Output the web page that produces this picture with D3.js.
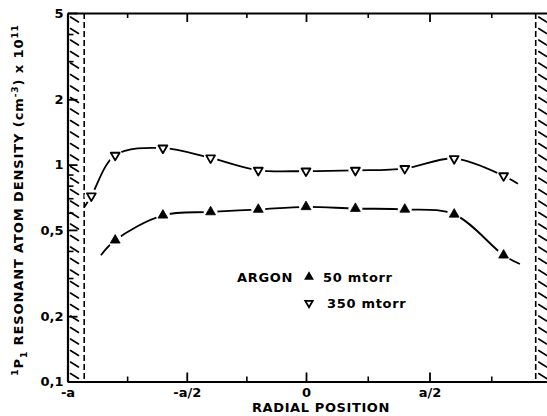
<!DOCTYPE html>
<html><head><meta charset="utf-8">
<script src="https://cdn.jsdelivr.net/npm/d3@7"></script>
<style>
html,body{margin:0;padding:0;background:#fff;}
svg{display:block;font-family:"DejaVu Sans",sans-serif;font-weight:bold;}
</style></head><body>
<svg id="chart" width="547" height="416"></svg>
<script>
// Radial positions, as fractions of the tube radius a
const positions50 = [-0.8, -0.6, -0.4, -0.2, 0, 0.2, 0.4, 0.6, 0.8];
const argon50 = [0.448, 0.584, 0.605, 0.621, 0.639, 0.627, 0.622, 0.590, 0.382];
const positions350 = [-0.9, -0.8, -0.6, -0.4, -0.2, 0, 0.2, 0.4, 0.6, 0.8];
const argon350 = [0.717, 1.104, 1.192, 1.073, 0.941, 0.934, 0.941, 0.959, 1.066, 0.888];
// Where each hand-drawn trend curve stops beyond the outer measurements
const trend50Ends = [[-0.86, 0.382], [0.866, 0.348]];
const trend350Ends = [[-0.93, 0.636], [0.858, 0.816]];

const yMajor = [0.1, 0.2, 0.5, 1, 2, 5];
const yMajorLabels = ["0,1", "0,2", "0,5", "1", "2", "5"];
const yMinor = [0.3, 0.4, 0.6, 0.7, 0.8, 0.9, 3, 4];
const xMajor = [-1, -0.5, 0, 0.5];
const xMajorLabels = ["-a", "-a/2", "0", "a/2"];
const xMinor = [-0.75, -0.25, 0.25, 0.75];
const plasmaEdge = 0.93;   // dashed boundary; hatched wall beyond it

const svg = d3.select("#chart");
const plotTop = 13, plotBottom = 381.5;
const x = d3.scaleLinear().domain([-1, 0, 1]).range([67.5, 306, 553]);
const y = d3.scaleLog().domain([0.1, 5]).range([plotBottom, plotTop]);

// Hatched walls
const hatch = svg.append("g").attr("stroke", "#000").attr("stroke-width", 1.6).attr("stroke-linecap", "round");
const rows = d3.range(plotTop + 4, plotBottom - 4, 11.5);
hatch.selectAll("line.l").data(rows).join("line").attr("class", "l")
  .attr("x1", x(-1) + 3).attr("y1", d => d).attr("x2", x(-1) + 11).attr("y2", d => d + 5);
hatch.selectAll("line.r").data(rows).join("line").attr("class", "r")
  .attr("x1", x(plasmaEdge) + 3).attr("y1", d => d).attr("x2", x(plasmaEdge) + 11).attr("y2", d => d + 5);
svg.selectAll("line.edge").data([-plasmaEdge, plasmaEdge]).join("line").attr("class", "edge")
  .attr("x1", d => x(d)).attr("x2", d => x(d)).attr("y1", plotTop).attr("y2", plotBottom)
  .attr("stroke", "#000").attr("stroke-width", 1.6).attr("stroke-dasharray", "6,3");

// Axes with inward ticks
function styleAxis(g, w) {
  g.select(".domain").attr("stroke-width", w);
  g.selectAll(".tick line").attr("stroke-width", 1.8);
  g.selectAll("text").attr("font-family", "DejaVu Sans").attr("font-weight", "bold").attr("font-size", 13).attr("fill", "#000");
}
svg.append("g").attr("transform", `translate(${x(-1)},0)`)
  .call(d3.axisLeft(y).tickValues(yMajor).tickFormat((d, i) => yMajorLabels[i]).tickSizeInner(-10).tickSizeOuter(0).tickPadding(4))
  .call(g => styleAxis(g, 2.2));
svg.append("g").attr("transform", `translate(${x(-1)},0)`)
  .call(d3.axisLeft(y).tickValues(yMinor).tickFormat("").tickSizeInner(-6).tickSizeOuter(0))
  .call(g => { g.select(".domain").remove(); g.selectAll(".tick line").attr("stroke-width", 1.6); });
svg.append("g").attr("transform", `translate(0,${plotBottom})`)
  .call(d3.axisBottom(x).tickValues(xMajor).tickFormat((d, i) => xMajorLabels[i]).tickSizeInner(-9).tickSizeOuter(0).tickPadding(6))
  .call(g => styleAxis(g, 2.2));
svg.append("g").attr("transform", `translate(0,${plotBottom})`)
  .call(d3.axisBottom(x).tickValues(xMinor).tickFormat("").tickSizeInner(-5).tickSizeOuter(0))
  .call(g => { g.select(".domain").remove(); g.selectAll(".tick line").attr("stroke-width", 1.6); });
svg.append("g").attr("transform", `translate(0,${plotTop})`)
  .call(d3.axisTop(x).tickValues(xMajor.filter(d => d > -1)).tickFormat("").tickSizeInner(-9).tickSizeOuter(0))
  .call(g => styleAxis(g, 2.2));
svg.append("g").attr("transform", `translate(0,${plotTop})`)
  .call(d3.axisTop(x).tickValues(xMinor).tickFormat("").tickSizeInner(-5).tickSizeOuter(0))
  .call(g => { g.select(".domain").remove(); g.selectAll(".tick line").attr("stroke-width", 1.6); });

// Axis titles
svg.append("text").attr("x", x(0) + 15).attr("y", 412).attr("text-anchor", "middle")
  .attr("font-size", 13).attr("letter-spacing", 0.6).text("RADIAL POSITION");
const yt = svg.append("text").attr("transform", "translate(23,200) rotate(-90)")
  .attr("text-anchor", "middle").attr("font-size", 13).attr("letter-spacing", 0.9);
yt.append("tspan").attr("font-size", 9).attr("dy", -5).text("1");
yt.append("tspan").attr("dy", 5).text("P");
yt.append("tspan").attr("font-size", 9).attr("dy", 4).text("1");
yt.append("tspan").attr("dy", -4).text(" RESONANT ATOM DENSITY (cm");
yt.append("tspan").attr("font-size", 9).attr("dy", -5).text("-3");
yt.append("tspan").attr("dy", 5).text(") x 10");
yt.append("tspan").attr("font-size", 9).attr("dy", -5).text("11");

// Trend curves
const line = d3.line().x(d => x(d[0])).y(d => y(d[1])).curve(d3.curveCatmullRom.alpha(0.5));
const pts50 = positions50.map((p, i) => [p, argon50[i]]);
const pts350 = positions350.map((p, i) => [p, argon350[i]]);
svg.append("path").attr("d", line([trend50Ends[0], ...pts50, trend50Ends[1]]))
  .attr("fill", "none").attr("stroke", "#000").attr("stroke-width", 1.8);
svg.append("path").attr("d", line([trend350Ends[0], ...pts350, trend350Ends[1]]))
  .attr("fill", "none").attr("stroke", "#000").attr("stroke-width", 1.8);

// Markers with a white gap around each
const up = d3.symbol(d3.symbolTriangle, 42)();
const down = d3.symbol(d3.symbolTriangle, 34)();
const downSmall = d3.symbol(d3.symbolTriangle, 24)();
function markers(pts, filled) {
  const g = svg.append("g");
  g.selectAll("circle").data(pts).join("circle")
    .attr("cx", d => x(d[0])).attr("cy", d => y(d[1])).attr("r", 7).attr("fill", "#fff");
  g.selectAll("path").data(pts).join("path")
    .attr("d", filled ? up : down)
    .attr("transform", d => `translate(${x(d[0])},${y(d[1])})` + (filled ? "" : " rotate(180)"))
    .attr("fill", filled ? "#000" : "#fff").attr("stroke", "#000")
    .attr("stroke-width", filled ? 0.8 : 1.8).attr("stroke-linejoin", "round");
}
markers(pts50, true);
markers(pts350, false);

// Legend
const lg = svg.append("g").attr("font-size", 13).attr("letter-spacing", 0.7);
lg.append("text").attr("x", 237).attr("y", 282).text("ARGON");
lg.append("path").attr("d", up).attr("transform", "translate(309,277)");
lg.append("text").attr("x", 323).attr("y", 282).text("50 mtorr");
lg.append("path").attr("d", downSmall).attr("transform", "translate(309,303) rotate(180)")
  .attr("fill", "#fff").attr("stroke", "#000").attr("stroke-width", 1.8);
lg.append("text").attr("x", 327).attr("y", 308).text("350 mtorr");
</script>
</body></html>
